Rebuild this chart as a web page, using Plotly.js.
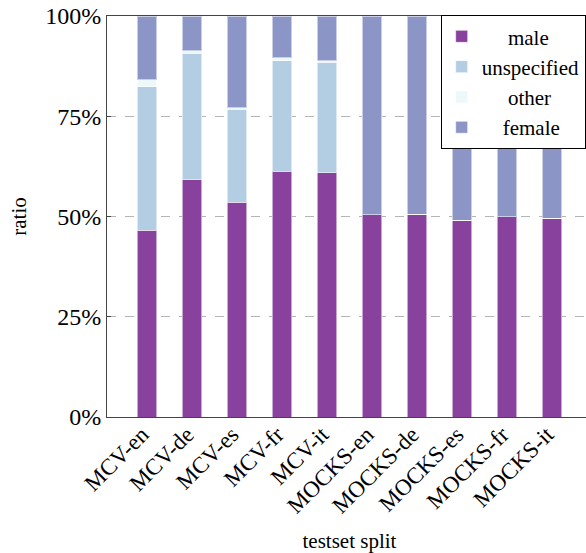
<!DOCTYPE html>
<html>
<head>
<meta charset="utf-8">
<script src="https://cdn.plot.ly/plotly-3.0.1.min.js"></script>
<style>
html,body{margin:0;padding:0;overflow:hidden;background:#fff;}
#chart{width:594px;height:553px;}
</style>
</head>
<body>
<div id="chart"></div>
<script>
var categories = ["MCV-en","MCV-de","MCV-es","MCV-fr","MCV-it","MOCKS-en","MOCKS-de","MOCKS-es","MOCKS-fr","MOCKS-it"];
var male        = [46.6, 59.2, 53.6, 61.3, 60.9, 50.5, 50.6, 49.1, 49.9, 49.6];
var unspecified = [35.8, 31.5, 23.2, 27.6, 27.6, 0, 0, 0, 0, 0];
var other       = [1.7, 0.6, 0.3, 0.7, 0.3, 0, 0, 0, 0, 0];
var female      = [15.9, 8.7, 22.9, 10.4, 11.2, 49.5, 49.4, 50.9, 50.1, 50.4];
var seriesNames = ["male", "unspecified", "other", "female"];
var yTicks = [0, 25, 50, 75, 100];
var yTickLabels = ["0%", "25%", "50%", "75%", "100%"];

var colors = ["#88419d", "#b3cde3", "#edf8fb", "#8c96c6"];
function pad(n){ return new Array(n + 1).join("\u00a0"); }
var legendPad = [pad(5), "", pad(5), pad(4)];
var series = [male, unspecified, other, female];
var font = "'Liberation Serif', 'Times New Roman', serif";

var traces = series.map(function(vals, i){
  return {
    type: "bar",
    x: categories,
    y: vals,
    name: legendPad[i] + seriesNames[i],
    width: 0.44,
    marker: {color: colors[i], line: {color: "rgba(255,255,255,0.55)", width: 1}},
    hoverinfo: "x+y+name"
  };
});

var layout = {
  width: 594, height: 553,
  margin: {l: 107, r: 2, t: 16, b: 136},
  barmode: "stack",
  paper_bgcolor: "#fff", plot_bgcolor: "#fff",
  font: {family: font, size: 22, color: "#000"},
  showlegend: true,
  legend: {
    x: 0.688, xanchor: "left", y: 1.002, yanchor: "top",
    traceorder: "normal",
    bgcolor: "#fff", bordercolor: "#000", borderwidth: 1,
    font: {family: font, size: 21, color: "#000"},
    itemwidth: 30
  },
  xaxis: {
    type: "category",
    range: [-0.89, 9.89],
    tickangle: -45,
    showgrid: false,
    showline: true, mirror: true, linecolor: "#444", linewidth: 1,
    ticks: "",
    ticklabelstandoff: -6,
    ticklabelshift: -5,
    tickfont: {family: font, size: 23, color: "#000"},
    title: {text: "testset split", font: {family: font, size: 21, color: "#000"}, standoff: 22},
    zeroline: false
  },
  yaxis: {
    range: [0, 100],
    tickvals: yTicks, ticktext: yTickLabels,
    showgrid: true, gridcolor: "#b5b5b5", griddash: "dash", gridwidth: 1,
    showline: true, mirror: "ticks", linecolor: "#444", linewidth: 1,
    ticks: "inside", ticklen: 4, tickcolor: "#444",
    tickfont: {family: font, size: 24, color: "#000"},
    title: {text: "ratio", font: {family: font, size: 21, color: "#000"}, standoff: 12},
    zeroline: false
  }
};

Plotly.newPlot("chart", traces, layout, {displayModeBar: false, staticPlot: true});
</script>
</body>
</html>
